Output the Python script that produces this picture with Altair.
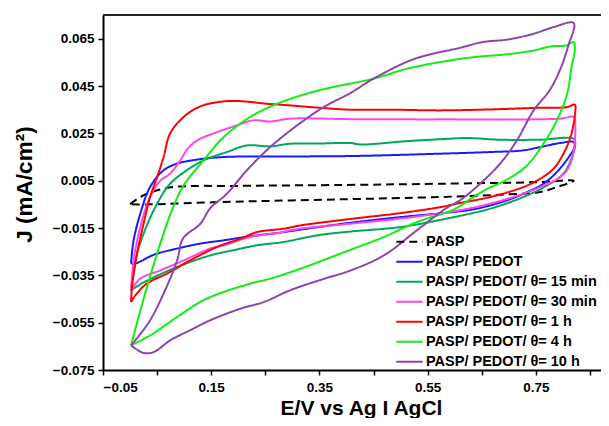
import altair as alt
import pandas as pd

series_names = [
    "PASP",
    "PASP/ PEDOT",
    "PASP/ PEDOT/ θ= 15 min",
    "PASP/ PEDOT/ θ= 30 min",
    "PASP/ PEDOT/ θ= 1 h",
    "PASP/ PEDOT/ θ= 4 h",
    "PASP/ PEDOT/ θ= 10 h",
]
colors = ["#000000", "#1a1aff", "#00a85a", "#ff44ee", "#ff0000", "#11ee11", "#8e44ad"]
dashes = [[8, 5], [1, 0], [1, 0], [1, 0], [1, 0], [1, 0], [1, 0]]

# Potential (V) and current density (mA/cm2), anodic branch then cathodic branch
pasp_E = [0.0, 0.019, 0.04, 0.08, 0.2, 0.4, 0.573, 0.758, 0.82,
          0.789, 0.758, 0.697, 0.573, 0.389, 0.173, 0.037, 0.0]
pasp_J = [-0.005, -0.0019, 0.0002, 0.0023, 0.0028, 0.0032, 0.0037, 0.0044, 0.005,
          0.0023, 0.0002, -0.0008, -0.0019, -0.0029, -0.004, -0.005, -0.005]

pedot_E = [0.0018, 0.0066, 0.019, 0.037, 0.062, 0.087, 0.124, 0.173, 0.25, 0.407, 0.573, 0.666, 0.727, 0.758, 0.795, 0.82,
           0.822, 0.811, 0.789, 0.764, 0.734, 0.697, 0.635, 0.586, 0.5, 0.407, 0.327, 0.272, 0.222, 0.173, 0.13, 0.087, 0.044, 0.01, 0.0018]
pedot_J = [-0.030, -0.0202, -0.0089, 0.0023, 0.0094, 0.0122, 0.0139, 0.015, 0.0152, 0.0154, 0.0164, 0.0171, 0.0178, 0.0192, 0.0209, 0.0213,
           0.0195, 0.015, 0.0087, 0.0037, 0.0002, -0.0033, -0.0071, -0.0085, -0.0104, -0.0128, -0.0153, -0.0171, -0.0185, -0.0202, -0.0216, -0.0237, -0.0263, -0.0300, -0.030]

m15_E = [0.0018, 0.0097, 0.025, 0.05, 0.074, 0.105, 0.136, 0.179, 0.216, 0.259, 0.296, 0.35, 0.407, 0.426, 0.512, 0.573, 0.623, 0.684, 0.758, 0.82,
         0.823, 0.817, 0.801, 0.771, 0.727, 0.666, 0.586, 0.5, 0.407, 0.346, 0.284, 0.235, 0.191, 0.148, 0.087, 0.025, 0.0018]
m15_J = [-0.0413, -0.0287, -0.0174, -0.0047, 0.0037, 0.0094, 0.0136, 0.0171, 0.0199, 0.0195, 0.0206, 0.0207, 0.0209, 0.0203, 0.0217, 0.0225, 0.023, 0.0223, 0.0223, 0.0227,
         0.0206, 0.015, 0.008, 0.003, -0.0019, -0.0068, -0.011, -0.0146, -0.0165, -0.0181, -0.0209, -0.0223, -0.0244, -0.0266, -0.0315, -0.0380, -0.0413]

m30_E = [0.0018, 0.0066, 0.019, 0.037, 0.056, 0.074, 0.093, 0.105, 0.124, 0.161, 0.198, 0.228, 0.259, 0.296, 0.407, 0.573, 0.795, 0.82,
         0.823, 0.82, 0.811, 0.795, 0.758, 0.727, 0.666, 0.61, 0.5, 0.407, 0.315, 0.272, 0.222, 0.173, 0.148, 0.099, 0.056, 0.019, 0.0018]
m30_J = [-0.0413, -0.0287, -0.0146, -0.0019, 0.005, 0.008, 0.0136, 0.018, 0.022, 0.0255, 0.0284, 0.0305, 0.030, 0.0312, 0.031, 0.0309, 0.0312, 0.0319,
         0.0276, 0.0178, 0.0107, 0.0065, 0.0023, -0.0005, -0.0047, -0.0075, -0.011, -0.0132, -0.0153, -0.0171, -0.0188, -0.0223, -0.0237, -0.0287, -0.0329, -0.0364, -0.0413]

h1_E = [0.0018, 0.0036, 0.013, 0.025, 0.037, 0.05, 0.062, 0.074, 0.099, 0.13, 0.173, 0.204, 0.253, 0.296, 0.333, 0.407, 0.481, 0.573, 0.666, 0.758, 0.808, 0.822,
        0.823, 0.814, 0.801, 0.783, 0.758, 0.727, 0.666, 0.604, 0.573, 0.5, 0.407, 0.315, 0.284, 0.235, 0.204, 0.161, 0.111, 0.068, 0.031, 0.0097, 0.0018]
h1_J = [-0.0463, -0.040, -0.0258, -0.0132, -0.0019, 0.0065, 0.0150, 0.0249, 0.0319, 0.0364, 0.0385, 0.0386, 0.0375, 0.0368, 0.0361, 0.035, 0.035, 0.0347, 0.0351, 0.0358, 0.0361, 0.0371,
        0.034, 0.0234, 0.0164, 0.0101, 0.0058, 0.0023, -0.0019, -0.0047, -0.0062, -0.0087, -0.0112, -0.0139, -0.0153, -0.0167, -0.0195, -0.023, -0.0287, -0.0343, -0.0385, -0.0435, -0.0463]

h4_E = [0.0018, 0.025, 0.05, 0.074, 0.099, 0.136, 0.173, 0.222, 0.272, 0.327, 0.37, 0.45, 0.512, 0.573, 0.635, 0.697, 0.746, 0.777, 0.808, 0.82,
        0.822, 0.816, 0.808, 0.789, 0.764, 0.734, 0.697, 0.66, 0.635, 0.598, 0.53, 0.469, 0.389, 0.315, 0.259, 0.222, 0.173, 0.148, 0.124, 0.087, 0.037, 0.0018]
h4_J = [-0.0646, -0.045, -0.0258, -0.0095, 0.003, 0.0136, 0.0234, 0.0319, 0.0375, 0.0418, 0.0443, 0.0481, 0.0523, 0.0551, 0.0572, 0.0584, 0.060, 0.0617, 0.0622, 0.0636,
        0.060, 0.053, 0.0418, 0.0305, 0.0206, 0.0115, 0.0055, 0.0015, -0.0019, -0.0072, -0.0125, -0.0188, -0.0258, -0.0322, -0.0364, -0.0385, -0.042, -0.0442, -0.047, -0.0526, -0.0604, -0.0646]

h10_E = [0.0018, 0.0097, 0.037, 0.062, 0.087, 0.098, 0.13, 0.148, 0.179, 0.216, 0.259, 0.309, 0.358, 0.407, 0.45, 0.518, 0.561, 0.604, 0.653, 0.697, 0.746, 0.783, 0.82,
         0.81, 0.795, 0.775, 0.746, 0.715, 0.684, 0.647, 0.61, 0.586, 0.53, 0.469, 0.407, 0.358, 0.296, 0.247, 0.204, 0.148, 0.111, 0.074, 0.044, 0.025, 0.0018]
h10_J = [-0.0646, -0.0625, -0.054, -0.0427, -0.0287, -0.0194, -0.0132, -0.0067, -0.0005, 0.0094, 0.0192, 0.0284, 0.0361, 0.042, 0.0481, 0.0558, 0.0587, 0.0608, 0.0636, 0.0646, 0.0671, 0.0699, 0.0716,
         0.062, 0.052, 0.043, 0.0347, 0.022, 0.0122, 0.0037, -0.0033, -0.0064, -0.016, -0.0266, -0.033, -0.0365, -0.0413, -0.0463, -0.0491, -0.054, -0.0582, -0.0625, -0.0674, -0.0678, -0.0646]

x_ticks = [-0.05, 0.05, 0.15, 0.25, 0.35, 0.45, 0.55, 0.65, 0.75, 0.85]
y_ticks = [-0.075, -0.065, -0.055, -0.045, -0.035, -0.025, -0.015, -0.005,
           0.005, 0.015, 0.025, 0.035, 0.045, 0.055, 0.065]
x_domain = [-0.05, 0.8705]
y_domain = [-0.075, 0.075]
frame_top = [0.075]

all_E = [pasp_E, pedot_E, m15_E, m30_E, h1_E, h4_E, h10_E]
all_J = [pasp_J, pedot_J, m15_J, m30_J, h1_J, h4_J, h10_J]

rows = []
for name, es, js in zip(series_names, all_E, all_J):
    for i, (e, j) in enumerate(zip(es, js)):
        rows.append({"series": name, "idx": i, "E": e, "J": j})
df = pd.DataFrame(rows)

FONT = "Liberation Sans"

legend = alt.Legend(
    title=None, orient="none", legendX=292, legendY=218,
    symbolType="stroke", symbolSize=700, symbolStrokeWidth=2,
    labelFont=FONT, labelFontSize=14.5, labelFontWeight="bold", labelColor="black",
    labelLimit=400, labelOffset=2, clipHeight=17.5, rowPadding=2, padding=0,
)

x_scale = alt.Scale(domain=x_domain, nice=False, zero=False)
y_scale = alt.Scale(domain=y_domain, nice=False, zero=False)

lines = alt.Chart(df).mark_line(strokeWidth=2, interpolate="catmull-rom").encode(
    x=alt.X("E:Q", scale=x_scale,
            axis=alt.Axis(values=x_ticks,
                          labelExpr="(round(datum.value*100)+5) % 20 == 0 ? format(datum.value, '.2f') : ''",
                          title="E/V vs Ag I AgCl", titleX=258, titleY=44,
                          titleAlign="center", titleBaseline="alphabetic",
                          labelPadding=5)),
    y=alt.Y("J:Q", scale=y_scale,
            axis=alt.Axis(values=y_ticks,
                          labelExpr="(round(datum.value*1000)+75) % 20 == 0 ? format(datum.value, '.3f') : ''",
                          title="J (mA/cm²)", titleX=-79, titleY=169, titleAngle=-90,
                          titleAlign="center", titleBaseline="middle", titleFontSize=22.5,
                          labelPadding=4)),
    color=alt.Color("series:N", sort=series_names,
                    scale=alt.Scale(domain=series_names, range=colors), legend=legend),
    strokeDash=alt.StrokeDash("series:N", sort=series_names,
                              scale=alt.Scale(domain=series_names, range=dashes), legend=legend),
    order=alt.Order("idx:Q"),
)

top = alt.Chart(pd.DataFrame({"J": frame_top})).mark_rule(color="#222222", strokeWidth=2).encode(
    y=alt.Y("J:Q", scale=y_scale)
)

chart = alt.layer(lines, top).properties(
    width=498, height=355,
    autosize=alt.AutoSizeParams(type="none"),
    padding={"left": 95, "top": 7, "right": 0, "bottom": 48},
).configure_view(
    stroke=None
).configure_axis(
    grid=False, domainColor="black", domainWidth=2, tickColor="black", tickWidth=1.5, tickSize=5,
    labelFont=FONT, labelFontSize=13.5, labelFontWeight="bold", labelColor="black",
    titleFont=FONT, titleFontSize=21, titleFontWeight="bold", titleColor="black",
)

chart.save("out.html", embed_options={"renderer": "svg", "actions": False})
